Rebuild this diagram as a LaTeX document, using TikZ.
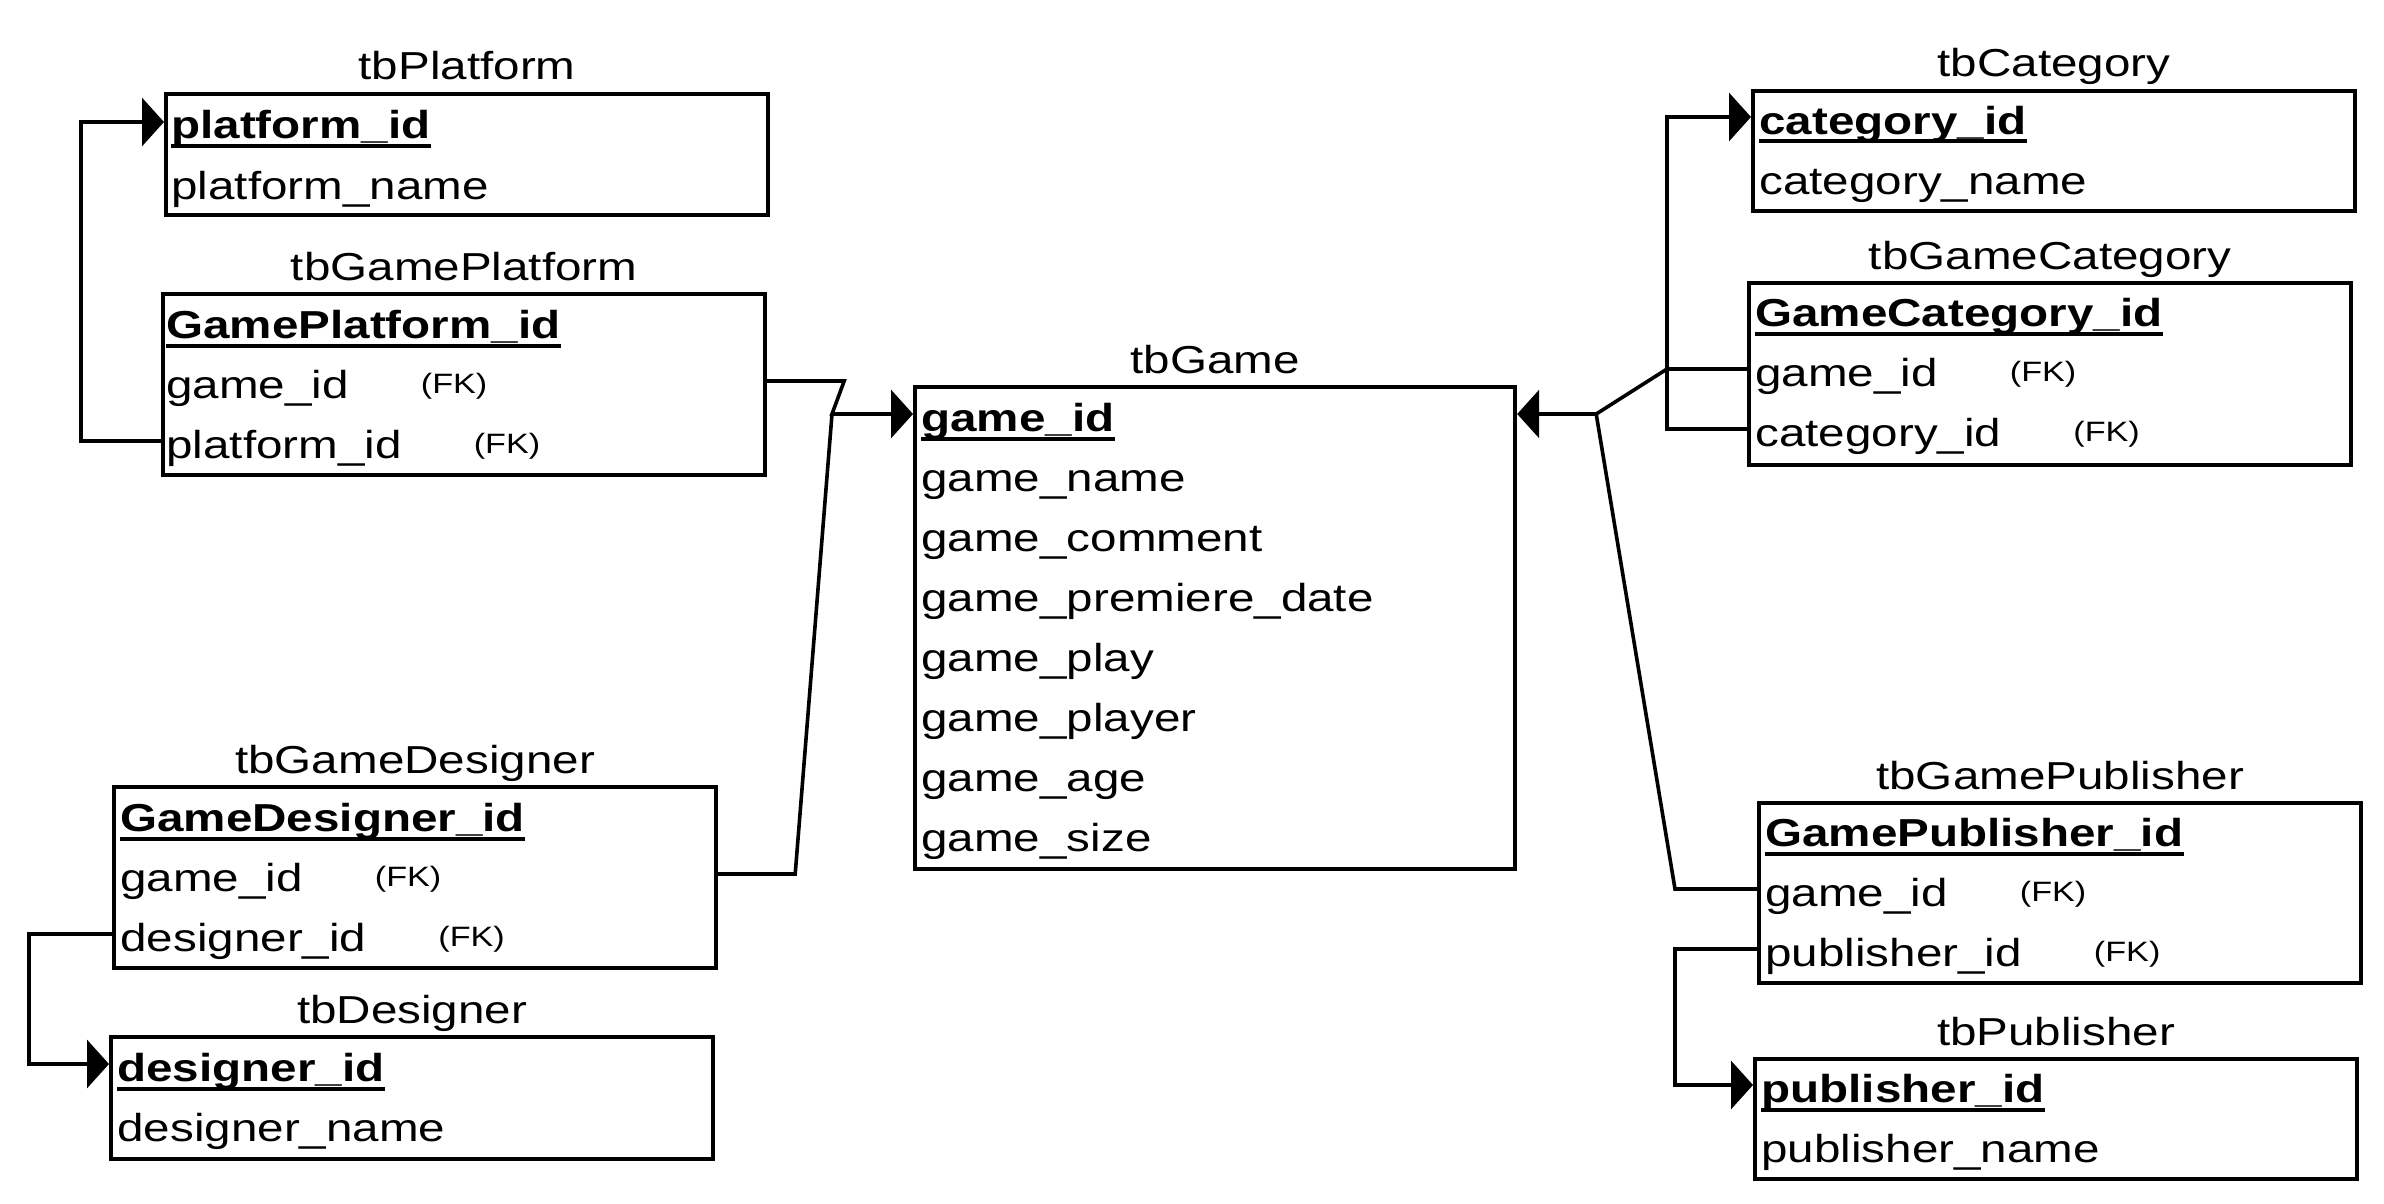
\documentclass[tikz,border=0pt]{standalone}
\usepackage{fontspec}
\setmainfont{Liberation Sans}[FakeStretch=1.22]
\usepackage{tikz}
\usetikzlibrary{arrows.meta,positioning}

\newcommand{\rowfont}{\fontsize{19.5}{23}\selectfont}
\newcommand{\fk}{\hspace{36pt}\raisebox{2.5pt}{\fontsize{14}{16}\selectfont(FK)}}

\begin{document}
\begin{tikzpicture}[x=0.5pt,y=-0.5pt,
    tablebox/.style={draw,line width=2.1pt,anchor=north west,inner sep=0pt,minimum width=301pt},
    tabletitle/.style={anchor=base,inner sep=0pt,font=\rowfont},
    field/.style={anchor=west,inner sep=0pt,text height=17pt,text depth=0pt,font=\rowfont},
    keyfield/.style={field,font=\rowfont\bfseries},
    link/.style={line width=1.8pt},
    fklink/.style={link,-{Triangle[length=11pt,width=24pt]}}]

      \useasboundingbox (0,0) rectangle (2384,1204);

      % draw tables
      \node[tablebox,minimum height=60.5pt] (p) at (164,92) {};
      \node[above=6pt of p,tabletitle] (p-title) {tbPlatform};
      \node[keyfield] (p-1) at ([shift={(7,30)}]p.north west) {platform\_id};
      \node[field] (p-2) at ([shift={(7,90)}]p.north west) {platform\_name};

      \node[tablebox,minimum height=90.5pt] (gp) at (161,292) {};
      \node[above=6pt of gp,tabletitle] (gp-title) {tbGamePlatform};
      \node[keyfield] (gp-1) at ([shift={(5,29)}]gp.north west) {GamePlatform\_id};
      \node[field] (gp-2) at ([shift={(5,89)}]gp.north west) {game\_id\fk};
      \node[field] (gp-3) at ([shift={(5,149)}]gp.north west) {platform\_id\fk};

      \node[tablebox,minimum height=90.5pt] (gd) at (112,785) {};
      \node[above=6pt of gd,tabletitle] (gd-title) {tbGameDesigner};
      \node[keyfield] (gd-1) at ([shift={(8,29)}]gd.north west) {GameDesigner\_id};
      \node[field] (gd-2) at ([shift={(8,89)}]gd.north west) {game\_id\fk};
      \node[field] (gd-3) at ([shift={(8,149)}]gd.north west) {designer\_id\fk};

      \node[tablebox,minimum height=61pt] (d) at (109,1035) {};
      \node[above=6pt of d,tabletitle] (d-title) {tbDesigner};
      \node[keyfield] (d-1) at ([shift={(8,29)}]d.north west) {designer\_id};
      \node[field] (d-2) at ([shift={(8,89)}]d.north west) {designer\_name};

      \node[tablebox,minimum width=300pt,minimum height=241pt] (g) at (913,385) {};
      \node[above=6pt of g,tabletitle] (g-title) {tbGame};
      \node[keyfield] (g-1) at ([shift={(8,29)}]g.north west) {game\_id};
      \foreach \f [count=\i from 2] in {game\_name,game\_comment,game\_premiere\_date,game\_play,game\_player,game\_age,game\_size}
      \node[field] (g-\i) at ([shift={(8,{29+60*(\i-1)})}]g.north west) {\f};

      \node[tablebox,minimum height=60pt] (c) at (1751,89) {};
      \node[above=6pt of c,tabletitle] (c-title) {tbCategory};
      \node[keyfield] (c-1) at ([shift={(8,28)}]c.north west) {category\_id};
      \node[field] (c-2) at ([shift={(8,88)}]c.north west) {category\_name};

      \node[tablebox,minimum height=91pt] (gc) at (1747,281) {};
      \node[above=6pt of gc,tabletitle] (gc-title) {tbGameCategory};
      \node[keyfield] (gc-1) at ([shift={(8,28)}]gc.north west) {GameCategory\_id};
      \node[field] (gc-2) at ([shift={(8,88)}]gc.north west) {game\_id\fk};
      \node[field] (gc-3) at ([shift={(8,148)}]gc.north west) {category\_id\fk};

      \node[tablebox,minimum height=90pt] (gpub) at (1757,801) {};
      \node[above=6pt of gpub,tabletitle] (gpub-title) {tbGamePublisher};
      \node[keyfield] (gpub-1) at ([shift={(8,28)}]gpub.north west) {GamePublisher\_id};
      \node[field] (gpub-2) at ([shift={(8,88)}]gpub.north west) {game\_id\fk};
      \node[field] (gpub-3) at ([shift={(8,148)}]gpub.north west) {publisher\_id\fk};

      \node[tablebox,minimum height=60pt] (pub) at (1753,1057) {};
      \node[above=6pt of pub,tabletitle] (pub-title) {tbPublisher};
      \node[keyfield] (pub-1) at ([shift={(8,28)}]pub.north west) {publisher\_id};
      \node[field] (pub-2) at ([shift={(8,88)}]pub.north west) {publisher\_name};

      % underline the keys
      \foreach \k in {p-1,gp-1,gd-1,d-1,g-1,c-1,gc-1,gpub-1,pub-1}
      \draw[line width=2pt] ([yshift=-3.75pt]\k.base west) -- ([yshift=-3.75pt]\k.base east);

      % draw links
      \path (g-1.west -| g.west) ++(-81,0) coordinate (jl);
      \path (g-1.west -| g.east) ++(79,0) coordinate (jr);

      \draw[fklink] (gp-3.west -| gp.west) -- ++(-80,0) |- (p-1.west -| p.west);
      \draw[fklink] (gp-2.west -| gp.east) -- ++(77,0) -- (jl) -- (g-1.west -| g.west);
      \draw[link] (gd-2.west -| gd.east) -- ++(77,0) -- (jl);
      \draw[fklink] (gd-3.west -| gd.west) -- ++(-83,0) |- (d-1.west -| d.west);

      \draw[fklink] (gc-2.west -| gc.west) -- ++(-80,0) -- (jr) -- (g-1.west -| g.east);
      \draw[fklink] (gc-3.west -| gc.west) -- ++(-80,0) |- (c-1.west -| c.west);
      \draw[link] (gpub-2.west -| gpub.west) -- ++(-82,0) -- (jr);
      \draw[fklink] (gpub-3.west -| gpub.west) -- ++(-82,0) |- (pub-1.west -| pub.west);

\end{tikzpicture}
\end{document}
